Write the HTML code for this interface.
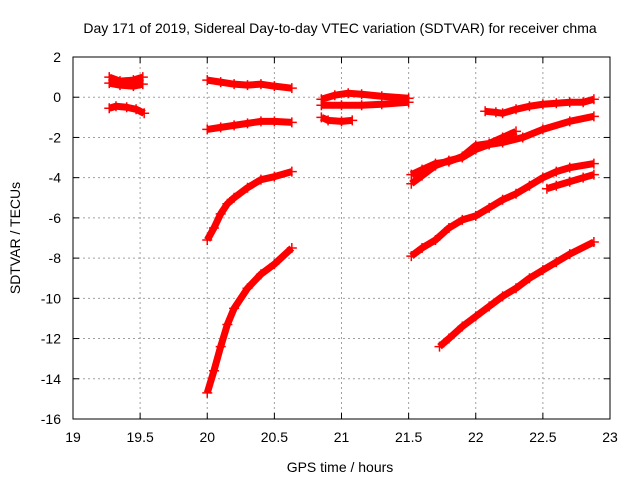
<!DOCTYPE html>
<html><head><meta charset="utf-8"><style>
body{margin:0;background:#fff}
svg{display:block;font-family:"Liberation Sans",sans-serif}
</style></head><body>
<svg id="chart" width="640" height="480">
<rect width="640" height="480" fill="#fff"/>
<g id="grid"></g><g id="series"></g><g id="axes"></g>
</svg>
<script>
const xTicks=[19,19.5,20,20.5,21,21.5,22,22.5,23];
const yTicks=[2,0,-2,-4,-6,-8,-10,-12,-14,-16];
const s1aH=[19.27,19.35,19.45,19.52];const s1aV=[1.0,0.8,0.85,1.0];
const s1bH=[19.27,19.35,19.45,19.52];const s1bV=[0.7,0.6,0.55,0.65];
const s2H=[19.27,19.32,19.4,19.47,19.53];const s2V=[-0.55,-0.45,-0.5,-0.6,-0.8];
const s3H=[20.0,20.1,20.2,20.3,20.4,20.5,20.63];const s3V=[0.85,0.75,0.65,0.6,0.65,0.55,0.45];
const s4H=[20.0,20.1,20.2,20.3,20.4,20.5,20.63];const s4V=[-1.6,-1.5,-1.4,-1.3,-1.2,-1.2,-1.25];
const s5H=[20.0,20.05,20.1,20.15,20.2,20.3,20.4,20.5,20.63];const s5V=[-7.1,-6.5,-5.8,-5.3,-5.0,-4.5,-4.1,-3.95,-3.7];
const s6H=[20.0,20.05,20.1,20.15,20.2,20.3,20.4,20.5,20.63];const s6V=[-14.7,-13.6,-12.4,-11.3,-10.5,-9.5,-8.8,-8.3,-7.5];
const s7aH=[20.85,20.95,21.05,21.15,21.3,21.5];const s7aV=[-0.1,0.1,0.2,0.15,0.05,-0.05];
const s7bH=[20.85,21.0,21.15,21.3,21.5];const s7bV=[-0.4,-0.4,-0.4,-0.35,-0.25];
const s8H=[20.85,20.9,21.0,21.08];const s8V=[-1.0,-1.15,-1.2,-1.15];
const s9H=[21.52,21.6,21.7,21.8,21.9,22.0,22.1,22.2,22.3];const s9V=[-3.85,-3.6,-3.3,-3.2,-2.95,-2.4,-2.3,-2.0,-1.7];
const s9bH=[21.52,21.6,21.7,21.8,21.9,22.0,22.1,22.2,22.35,22.5,22.7,22.88];const s9bV=[-4.3,-3.9,-3.4,-3.15,-3.0,-2.6,-2.35,-2.25,-2.0,-1.6,-1.2,-0.95];
const s10H=[22.07,22.15,22.2,22.3,22.4,22.5,22.6,22.7,22.8,22.88];const s10V=[-0.7,-0.75,-0.8,-0.6,-0.45,-0.35,-0.3,-0.25,-0.25,-0.1];
const s11H=[21.52,21.6,21.7,21.8,21.9,22.0,22.1,22.2,22.3,22.4,22.5,22.6,22.7,22.88];const s11V=[-7.9,-7.5,-7.1,-6.5,-6.1,-5.9,-5.5,-5.1,-4.8,-4.4,-4.0,-3.7,-3.5,-3.3];
const s12H=[22.53,22.6,22.7,22.8,22.88];const s12V=[-4.55,-4.4,-4.2,-4.0,-3.85];
const s13H=[21.73,21.8,21.9,22.0,22.1,22.2,22.3,22.4,22.5,22.6,22.7,22.88];const s13V=[-12.4,-12.0,-11.4,-10.9,-10.4,-9.9,-9.5,-9.0,-8.6,-8.2,-7.8,-7.2];
const seriesList=[[s1aH,s1aV],[s1bH,s1bV],[s2H,s2V],[s3H,s3V],[s4H,s4V],[s5H,s5V],[s6H,s6V],[s7aH,s7aV],[s7bH,s7bV],[s8H,s8V],[s9H,s9V],[s9bH,s9bV],[s10H,s10V],[s11H,s11V],[s12H,s12V],[s13H,s13V]];

const L=73,R=610,T=57,B=419,NS="http://www.w3.org/2000/svg";
const xs=h=>L+(h-19)/4*(R-L);
const ys=v=>T+(2-v)/18*(B-T);
function mk(tag,attrs,parent,text){const e=document.createElementNS(NS,tag);for(const k in attrs)e.setAttribute(k,attrs[k]);if(text!==undefined)e.textContent=text;parent.appendChild(e);return e;}
const grid=document.getElementById('grid'),axes=document.getElementById('axes'),ser=document.getElementById('series');
xTicks.forEach(t=>{const x=xs(t);
 if(t>19&&t<23){const g=mk('line',{x1:x,x2:x,y1:T,y2:B,stroke:'#a0a0a0','stroke-dasharray':'2,3'},grid);
 
 }
 mk('line',{x1:x,x2:x,y1:B,y2:B-6,stroke:'#000'},axes);mk('line',{x1:x,x2:x,y1:T,y2:T+6,stroke:'#000'},axes);
 const tl=mk('text',{x:x,y:442,'text-anchor':'middle','font-size':14},axes,String(t));
 
 });
yTicks.forEach(t=>{const y=ys(t);
 if(t<2&&t>-16){const g=mk('line',{x1:L,x2:R,y1:y,y2:y,stroke:'#a0a0a0','stroke-dasharray':'2,3'},grid);
 
 }
 mk('line',{x1:L,x2:L+6,y1:y,y2:y,stroke:'#000'},axes);mk('line',{x1:R,x2:R-6,y1:y,y2:y,stroke:'#000'},axes);
 const tl=mk('text',{x:61,y:y+5,'text-anchor':'end','font-size':14},axes,String(t));
 
 });
const fr=mk('rect',{x:L,y:T,width:R-L,height:B-T,fill:'none',stroke:'#000'},axes);


const ti=mk('text',{x:340,y:33,'text-anchor':'middle','font-size':14},axes,'Day 171 of 2019, Sidereal Day-to-day VTEC variation (SDTVAR) for receiver chma');


const xl=mk('text',{x:340,y:472,'text-anchor':'middle','font-size':14},axes,'GPS time / hours');


const yl=mk('text',{x:0,y:0,'text-anchor':'middle','font-size':14,transform:'translate(20,238) rotate(-90)'},axes,'SDTVAR / TECUs');


seriesList.forEach(([H,V])=>{
 const g=mk('g',{},ser);
 
 
 const pts=H.map((h,i)=>xs(h)+','+ys(V[i])).join(' ');
 mk('polyline',{points:pts,fill:'none',stroke:'#ff0000','stroke-width':7,'stroke-linejoin':'round'},g);
 H.forEach((h,i)=>{const x=xs(h),y=ys(V[i]);
  const p=mk('path',{d:`M${x-5},${y}H${x+5}M${x},${y-5}V${y+5}`,stroke:'#ff0000','stroke-width':1.5},g);
  
  });
});
</script>
</body></html>
